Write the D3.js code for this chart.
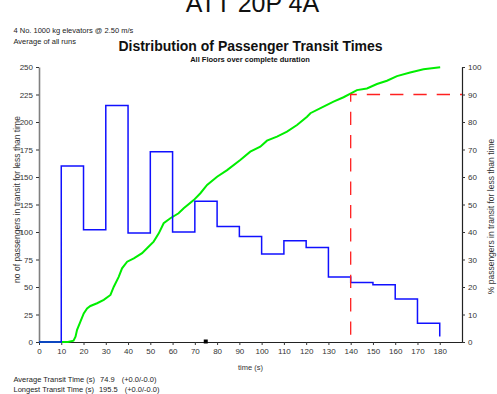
<!DOCTYPE html>
<html>
<head>
<meta charset="utf-8">
<script src="https://cdn.jsdelivr.net/npm/d3@7"></script>
<style>
  html, body { margin: 0; padding: 0; background: #fff; }
  svg { display: block; font-family: "Liberation Sans", Arial, sans-serif; }
</style>
</head>
<body>
<svg id="chart" width="497" height="394"></svg>
<script>
// Histogram of transit times: count of passengers per 10 s band (step line)
const binStart = [0, 10, 20, 30, 40, 50, 60, 70, 80, 90, 100, 110, 120, 130, 140, 150, 160, 170, 180];
const binCount = [0, 160, 102, 215, 99, 173, 100, 128, 105, 96, 80, 92, 86, 59, 54, 52, 39, 17, 5];

// Cumulative percentage of passengers in transit for less than time
const cumTime = [0, 10, 13, 15.5, 16.4, 17.1, 18.6, 20.1, 21.6, 23.1, 26.1, 29.1, 32.1, 33.6, 35.8, 37.3,
  39.6, 42.6, 46.3, 49.3, 51.5, 53.8, 56, 59, 62.7, 65, 69.5, 72.5, 75.5, 80, 84.5, 90.4, 94.9,
  99.4, 102.4, 106.9, 111.4, 115.9, 120.4, 121.9, 127.8, 132.3, 136.8, 140.1, 142.8, 147.3,
  151.8, 156.3, 160.8, 166.7, 172.7, 180.2];
const cumPct = [0, 0, 0, 0.5, 1.9, 4.4, 7.4, 10.4, 12.2, 13.1, 14.1, 15.3, 17.1, 20.1, 23.7, 26.8,
  29.2, 30.4, 32.3, 34.7, 36.5, 39.5, 43.2, 45, 46.8, 48.6, 51.6, 54.1, 57.1, 60.1, 62.5, 66.2, 69.2,
  71, 73.2, 74.7, 76.5, 78.9, 81.9, 83.2, 85.6, 87.4, 89, 90.4, 91.6, 92.2,
  93.8, 95, 96.7, 98, 99.2, 99.9];

// 90th percentile marker and summary figures
const p90Level = 90;
const p90Time = 140;
const avgTransit = 74.9;
const longestTransit = 195.5;

// Axis ticks
const xTicks = d3.range(0, 181, 10);
const yLeftTicks = d3.range(0, 251, 25);
const yRightTicks = d3.range(0, 101, 10);

const svg = d3.select("#chart");

const x = d3.scaleLinear().domain([0, 190]).range([39, 462]);
const yL = d3.scaleLinear().domain([0, 250]).range([342, 67]);
const yR = d3.scaleLinear().domain([0, 100]).range([342, 67]);

// Headings
svg.append("text").attr("x", 252.5).attr("y", 12).attr("text-anchor", "middle")
  .attr("font-size", 25).attr("fill", "#111").text("ATT 20P 4A");
svg.append("text").attr("x", 13.5).attr("y", 33).attr("font-size", 7.5).attr("fill", "#222")
  .text("4 No. 1000 kg elevators @ 2.50 m/s");
svg.append("text").attr("x", 13.5).attr("y", 44).attr("font-size", 7.5).attr("fill", "#222")
  .text("Average of all runs");
svg.append("text").attr("x", 250.5).attr("y", 50.5).attr("text-anchor", "middle")
  .attr("font-size", 14).attr("font-weight", "bold").attr("fill", "#111")
  .text("Distribution of Passenger Transit Times");
svg.append("text").attr("x", 250).attr("y", 62).attr("text-anchor", "middle")
  .attr("font-size", 7.5).attr("font-weight", "bold").attr("fill", "#111")
  .text("All Floors over complete duration");

// Axes
function styleAxis(g, lineColor, lineWidth) {
  g.selectAll("text").attr("font-size", 8).attr("fill", "#333")
    .attr("font-family", "'Liberation Sans', Arial, sans-serif");
  g.selectAll(".tick line").attr("stroke", "#333");
  g.select(".domain").attr("stroke", lineColor).attr("stroke-width", lineWidth);
}

const gx = svg.append("g").attr("transform", `translate(0,${yL(0)})`)
  .call(d3.axisBottom(x).tickValues(xTicks).tickSize(3).tickSizeOuter(0).tickPadding(3));
styleAxis(gx, "#222", 1.2);

const gyL = svg.append("g").attr("transform", `translate(${x(0)},0)`)
  .call(d3.axisLeft(yL).tickValues(yLeftTicks).tickSize(3).tickSizeOuter(0).tickPadding(3));
styleAxis(gyL, "#808080", 1.6);

const gyR = svg.append("g").attr("transform", `translate(${x(190)},0)`)
  .call(d3.axisRight(yR).tickValues(yRightTicks).tickSize(3).tickSizeOuter(0).tickPadding(3));
styleAxis(gyR, "#222", 1.2);

// Axis titles
svg.append("text").attr("transform", `translate(19.5,${(yL(0) + yL(250)) / 2 - 5}) rotate(-90)`)
  .attr("text-anchor", "middle").attr("font-size", 8.5).attr("fill", "#333")
  .text("no of passengers in transit for less than time");
svg.append("text").attr("transform", `translate(494,${(yR(0) + yR(100)) / 2 + 12}) rotate(-90)`)
  .attr("text-anchor", "middle").attr("font-size", 8.5).attr("fill", "#333")
  .text("% passengers in transit for less than time");
svg.append("text").attr("x", (x(0) + x(190)) / 2).attr("y", 370).attr("text-anchor", "middle")
  .attr("font-size", 7.5).attr("fill", "#333").text("time (s)");

// Cumulative percentage curve
const cumData = cumTime.map((t, i) => ({ t, p: cumPct[i] }));
svg.append("path").datum(cumData)
  .attr("fill", "none").attr("stroke", "#00ee00").attr("stroke-width", 2)
  .attr("d", d3.line().x(d => x(d.t)).y(d => yR(d.p)));

// Histogram step line
const histData = binStart.map((t, i) => ({ t, c: binCount[i] }));
svg.append("path").datum(histData)
  .attr("fill", "none").attr("stroke", "#1010ff").attr("stroke-width", 1.5)
  .attr("d", d3.line().curve(d3.curveStepAfter).x(d => x(d.t)).y(d => yL(d.c)));

// 90% marker: dashed line from the right axis to the curve and down to the time axis
const p90Path = [{ t: 190, p: p90Level }, { t: p90Time, p: p90Level }, { t: p90Time, p: 0 }];
svg.append("path").datum(p90Path)
  .attr("fill", "none").attr("stroke", "#ff2020").attr("stroke-width", 1.3)
  .attr("stroke-dasharray", "13.3,10").attr("stroke-dashoffset", 11.3)
  .attr("d", d3.line().x(d => x(d.t)).y(d => yR(d.p)));

// Average transit time marker
svg.append("rect")
  .attr("x", x(avgTransit) - 2).attr("y", yL(0) - 2.5).attr("width", 4).attr("height", 4)
  .attr("fill", "#000");

// Summary lines: label, value and tolerance laid out in columns
const summary = [
  { label: "Average Transit Time (s)", value: avgTransit.toFixed(1), y: 381.5 },
  { label: "Longest Transit Time (s)", value: longestTransit.toFixed(1), y: 391.5 }
];
const labels = summary.map(s => svg.append("text").attr("x", 13.5).attr("y", s.y)
  .attr("font-size", 7.5).attr("fill", "#222").text(s.label));
summary.forEach((s, i) => {
  const labelEnd = 13.5 + labels[i].node().getComputedTextLength();
  const v = svg.append("text").attr("x", labelEnd + 5).attr("y", s.y)
    .attr("font-size", 7.5).attr("fill", "#222").text(s.value);
  const valueEnd = labelEnd + 5 + v.node().getComputedTextLength();
  svg.append("text").attr("x", valueEnd + 7).attr("y", s.y)
    .attr("font-size", 7.5).attr("fill", "#222").text("(+0.0/-0.0)");
});
</script>
</body>
</html>
